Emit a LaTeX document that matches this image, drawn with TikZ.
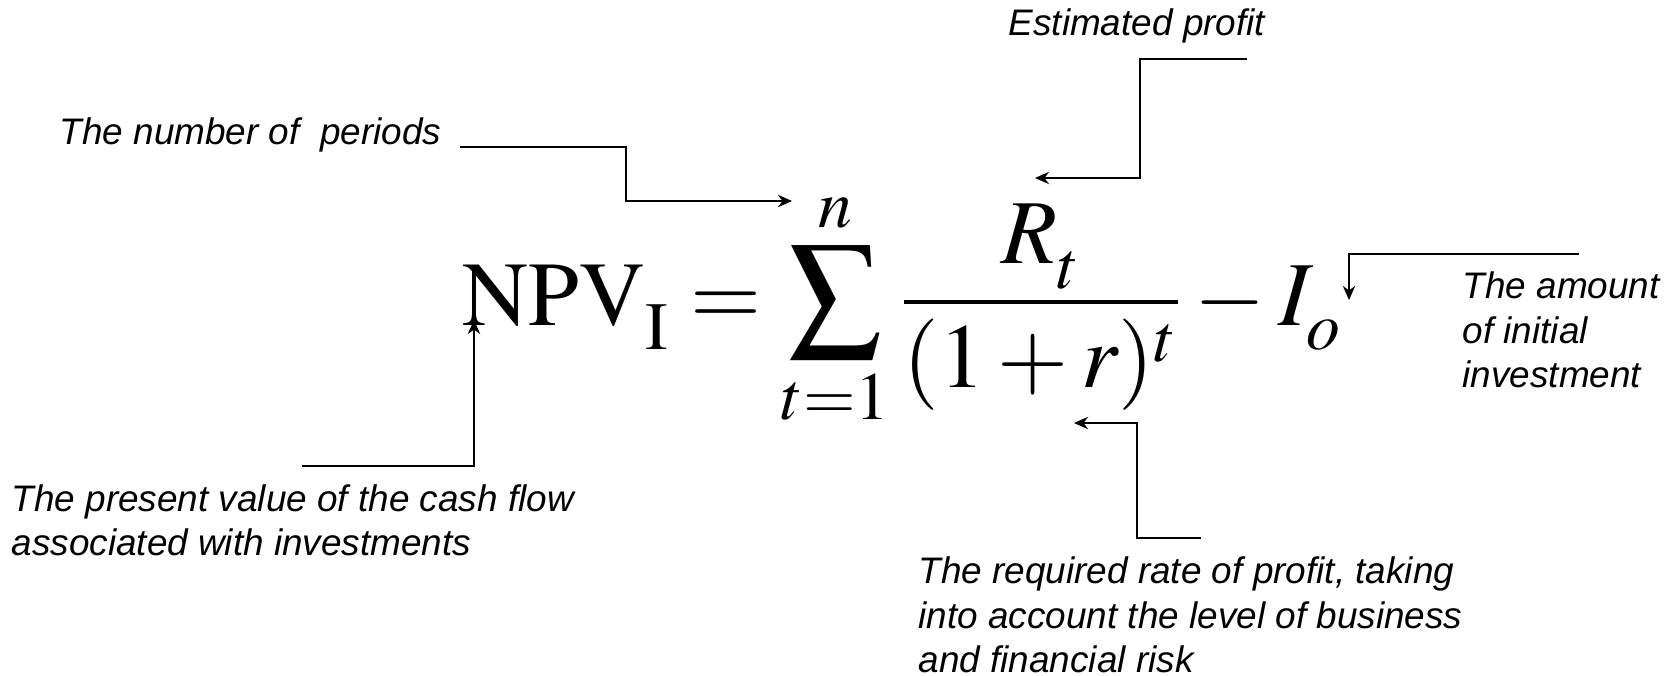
\documentclass[tikz,border=0pt]{standalone}
\usepackage{mathptmx}
\usepackage[no-math]{fontspec}
\setmainfont{Liberation Serif}
\setsansfont{Liberation Sans}
\usetikzlibrary{arrows.meta}
% subscript set lower than usual
\newcommand\lowsub[1]{_{\raisebox{-3.2pt}{$\scriptstyle #1$}}}

\begin{document}
\begin{tikzpicture}[
    note/.style={font=\sffamily\itshape\fontsize{10.5}{12.6}\selectfont,
                 align=left,inner sep=0pt},
    call/.style={-{Stealth[length=4pt,width=3.5pt]},line width=0.6pt},
    formula/.style={inner sep=0pt,font=\fontsize{26}{30}\selectfont},
  ]
    \useasboundingbox (0,0) rectangle (16.78,-6.75);

    \node[formula,anchor=base west] (npv) at (4.62,-3.25)
      {$\displaystyle \mathrm{NPV}\lowsub{\mathrm{I}} = \sum_{t=1}^{n}\frac{R\lowsub{t}}{(1+r)^t} - I\lowsub{o}$};

    \node[note,anchor=west] (profit)  at (10.08,-0.26) {Estimated profit};
    \node[note,anchor=west] (periods) at (0.59,-1.35)  {The number of~ periods};
    \node[note,anchor=west] (amount)  at (14.62,-3.30)
      {The amount\\of initial\\investment};
    \node[note,anchor=west] (present) at (0.11,-5.20)
      {The present value of the cash flow\\associated with investments};
    \node[note,anchor=west] (rate)    at (9.18,-6.15)
      {The required rate of profit, taking\\into account the level of business\\and financial risk};

    \coordinate (profit-a)  at (12.47,-0.59);
    \coordinate (profit-b)  at (10.35,-1.78);
    \coordinate (periods-a) at (4.60,-1.47);
    \coordinate (periods-b) at (7.92,-2.01);
    \coordinate (amount-a)  at (15.79,-2.54);
    \coordinate (amount-b)  at (13.49,-3.00);
    \coordinate (present-a) at (3.02,-4.66);
    \coordinate (present-b) at (4.74,-3.20);
    \coordinate (rate-a)    at (12.01,-5.38);
    \coordinate (rate-b)    at (10.74,-4.23);

    \draw[call] (profit-a) -- ++(-1.07,0) |- (profit-b);
    \draw[call] (periods-a) -- ++(1.66,0) |- (periods-b);
    \draw[call] (amount-a) -| (amount-b);
    \draw[call] (present-a) -| (present-b);
    \draw[call] (rate-a) -- ++(-0.64,0) |- (rate-b);

\end{tikzpicture}
\end{document}
